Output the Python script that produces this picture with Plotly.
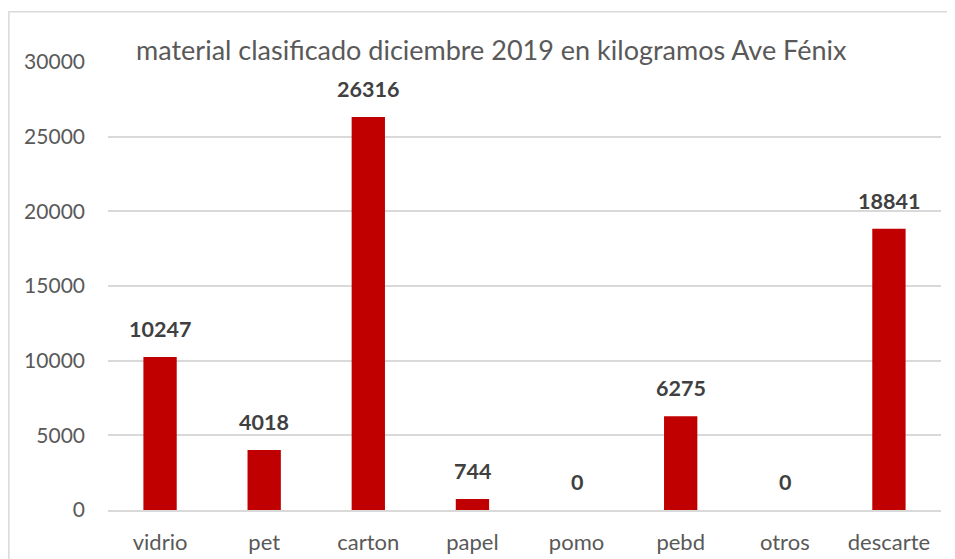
import plotly.graph_objects as go

materials = ["vidrio", "pet", "carton", "papel", "pomo", "pebd", "otros", "descarte"]
kilos = [10247, 4018, 26316, 744, 0, 6275, 0, 18841]
y_ticks = [0, 5000, 10000, 15000, 20000, 25000, 30000]

font_name = "Lato, Open Sans, sans-serif"
grey = "#595959"

fig = go.Figure()
fig.add_trace(go.Bar(x=materials, y=kilos, marker_color="#C00000",
                     marker_line_width=0, width=0.32))

# etiquetas de datos encima de cada barra
for m, k in zip(materials, kilos):
  fig.add_annotation(x=m, y=k, text="<b>" + str(k) + "</b>", showarrow=False,
                     yanchor="bottom", yshift=13,
                     font=dict(family=font_name, size=21.5, color="#404040"))

fig.add_annotation(xref="paper", yref="paper", x=0.031, y=1.0, yshift=13,
                   xanchor="left", yanchor="middle", showarrow=False,
                   text="material clasificado diciembre 2019 en kilogramos Ave Fénix",
                   font=dict(family=font_name, size=27, color=grey))

# marco del grafico (la pagina ya tiene 8px de margen)
fig.add_shape(type="rect", xref="paper", yref="paper",
              x0=-0.119, y0=-0.3, x1=1.3, y1=1.112,
              line=dict(color="#D9D9D9", width=1.5), layer="below")

fig.update_layout(
  width=939, height=551,
  margin=dict(l=100, r=6, t=54, b=49, autoexpand=False),
  plot_bgcolor="white", paper_bgcolor="white",
  showlegend=False,
  font=dict(family=font_name, color=grey, size=22),
)
fig.update_xaxes(showline=True, linecolor="#D9D9D9", linewidth=1.5,
                 ticks="", ticklabelstandoff=12, automargin=False,
                 tickfont=dict(size=22, color=grey))
fig.update_yaxes(range=[0, 30000], tickvals=y_ticks, tickformat="d",
                 showgrid=True, gridcolor="#D9D9D9", gridwidth=1.5,
                 zeroline=False, ticks="", ticklabelstandoff=22,
                 automargin=False, tickfont=dict(size=21, color=grey))

fig.write_html("out.html")
